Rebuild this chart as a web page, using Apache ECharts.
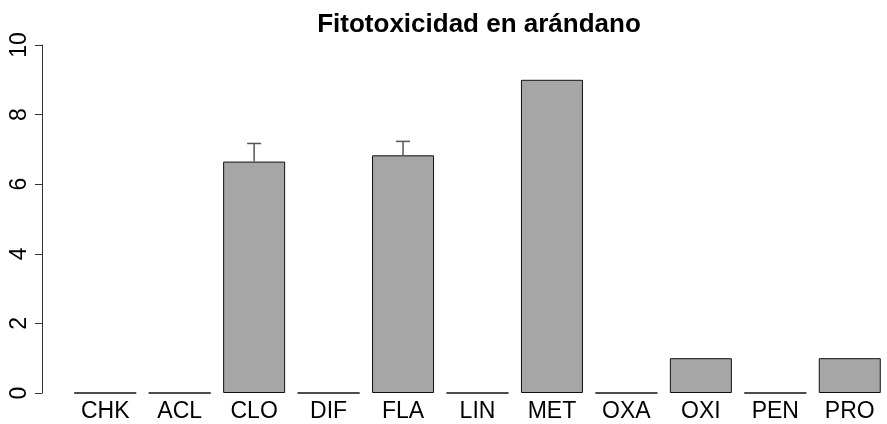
<!DOCTYPE html>
<html>
<head>
<meta charset="utf-8">
<script src="https://cdn.jsdelivr.net/npm/echarts@6/dist/echarts.min.js"></script>
<style>
  html, body { margin: 0; padding: 0; background: #fff; }
  #chart { width: 887px; height: 424px; }
</style>
</head>
<body>
<div id="chart"></div>
<script>
const categories = ['CHK', 'ACL', 'CLO', 'DIF', 'FLA', 'LIN', 'MET', 'OXA', 'OXI', 'PEN', 'PRO']
const values = [0, 0, 6.65, 0, 6.83, 0, 9, 0, 1, 0, 1]
// upper error bar length (sd), 0 = none
const errors = [0, 0, 0.52, 0, 0.4, 0, 0, 0, 0, 0, 0]
const yTicks = { min: 0, max: 10, interval: 2 }

const font = 'Liberation Sans, Arial, sans-serif'
const chart = echarts.init(document.getElementById('chart'))

const errData = []
for (let i = 0; i < categories.length; i++) {
  if (errors[i] > 0) errData.push([i, values[i], values[i] + errors[i]])
}

chart.setOption({
  animation: false,
  title: {
    text: 'Fitotoxicidad en arándano',
    left: 474,
    textAlign: 'center',
    top: 7,
    textStyle: { fontFamily: font, fontSize: 26, fontWeight: 'bold', color: '#000' }
  },
  grid: { left: 68, right: -7, top: 45, bottom: 31 },
  xAxis: {
    type: 'category',
    data: categories,
    axisLine: { show: false },
    axisTick: { show: false },
    axisLabel: { margin: 7, fontFamily: font, fontSize: 23, color: '#000' }
  },
  yAxis: {
    type: 'value',
    min: yTicks.min,
    max: yTicks.max,
    interval: yTicks.interval,
    offset: 26,
    splitLine: { show: false },
    axisLine: { show: true, onZero: false, lineStyle: { color: '#333', width: 1 } },
    axisTick: { show: true, length: 7, lineStyle: { color: '#333' } },
    axisLabel: { rotate: 90, margin: 11, fontFamily: font, fontSize: 23, color: '#000' }
  },
  series: [
    {
      type: 'bar',
      data: values,
      barWidth: 62,
      itemStyle: { color: '#a6a6a6', borderColor: '#111', borderWidth: 1 }
    },
    {
      type: 'custom',
      data: errData,
      renderItem: (params, api) => {
        const lo = api.coord([api.value(0), api.value(1)])
        const hi = api.coord([api.value(0), api.value(2)])
        const cap = 7
        const style = { stroke: '#555', lineWidth: 1.5 }
        return {
          type: 'group',
          children: [
            { type: 'line', shape: { x1: lo[0], y1: lo[1], x2: hi[0], y2: hi[1] }, style: style },
            { type: 'line', shape: { x1: hi[0] - cap, y1: hi[1], x2: hi[0] + cap, y2: hi[1] }, style: style }
          ]
        }
      },
      z: 5
    }
  ]
})
</script>
</body>
</html>
